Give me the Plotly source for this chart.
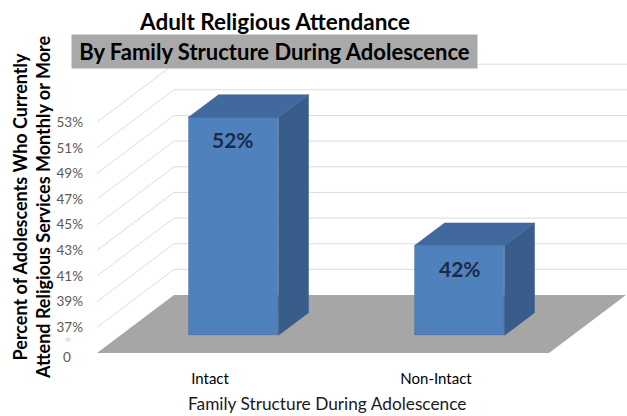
import plotly.graph_objects as go

# ---- data ----
categories = ["Intact", "Non-Intact"]
values = [52, 42]
value_labels = ["52%", "42%"]
tick_values = [37, 39, 41, 43, 45, 47, 49, 51, 53]
tick_labels = ["37%", "39%", "41%", "43%", "45%", "47%", "49%", "51%", "53%"]

# ---- geometry / style ----
FONT = "Lato"
W, H = 627, 416
ML, MR, MT, MB = 97, 0, 58, 63
Y0, Y1 = 35, 58
X0, X1 = -0.5, 1.845
DX, DY = 0.3407, 4.52          # full depth offset (x units, y units)
D_FRONT, D_BAR = 0.305, 0.39   # bar front depth fraction and bar depth fraction
BAR_W = 0.398

FRONT = "#4f81bd"
SIDE = "#385d8a"
TOP = "#41699d"
GRID = "#dcdcdc"
FLOOR = "#a6a6a6"

pw = W - ML - MR
ph = H - MT - MB


def px2paper_x(px):
    return (px - ML) / pw


def py2paper_y(py):
    return (H - MB - py) / ph


fig = go.Figure()
shapes = []

# walls gridlines
for v in tick_values:
    shapes.append(dict(type="line", xref="x", yref="y", x0=X0, y0=v, x1=X0 + DX, y1=v + DY,
                       line=dict(color=GRID, width=1), layer="below"))
    shapes.append(dict(type="line", xref="x", yref="y", x0=X0 + DX, y0=v + DY, x1=X1, y1=v + DY,
                       line=dict(color=GRID, width=1), layer="below"))

# floor
floor_path = (f"M {X0},{Y0} L 1.5,{Y0} L {1.5 + DX},{Y0 + DY} L {X0 + DX},{Y0 + DY} Z")
shapes.append(dict(type="path", xref="x", yref="y", path=floor_path,
                   fillcolor=FLOOR, line=dict(width=0), layer="below"))

# bars: front faces
fx = [i + D_FRONT * DX for i in range(len(categories))]
base = Y0 + D_FRONT * DY
fig.add_trace(go.Bar(
    x=fx, y=[v - Y0 for v in values], base=[base] * len(values), width=BAR_W,
    marker=dict(color=FRONT, line=dict(color="#41699d", width=0.6)),
    hoverinfo="skip", showlegend=False,
))

# side and top faces
for i, v in enumerate(values):
    xl = fx[i] - BAR_W / 2
    xr = fx[i] + BAR_W / 2
    top = v + D_FRONT * DY
    ox, oy = D_BAR * DX, D_BAR * DY
    fig.add_trace(go.Scatter(
        x=[xr, xr, xr + ox, xr + ox, xr], y=[base, top, top + oy, base + oy, base],
        fill="toself", fillcolor=SIDE, mode="lines", line=dict(color=SIDE, width=0.5),
        hoverinfo="skip", showlegend=False))
    fig.add_trace(go.Scatter(
        x=[xl, xr, xr + ox, xl + ox, xl], y=[top, top, top + oy, top + oy, top],
        fill="toself", fillcolor=TOP, mode="lines", line=dict(color=TOP, width=0.5),
        hoverinfo="skip", showlegend=False))

annotations = []
for i, v in enumerate(values):
    annotations.append(dict(x=fx[i], y=v + D_FRONT * DY, xref="x", yref="y",
                            text=f"<b>{value_labels[i]}</b>", showarrow=False,
                            yanchor="top", yshift=-8,
                            font=dict(family=FONT, size=21, color="#1c2a4a")))

# titles
annotations.append(dict(x=px2paper_x(274), y=py2paper_y(22), xref="paper", yref="paper",
                        text="<b>Adult Religious Attendance</b>", showarrow=False,
                        xanchor="center", yanchor="middle",
                        font=dict(family=FONT, size=22.5, color="#000000")))
annotations.append(dict(x=px2paper_x(274.5), y=py2paper_y(51.5), xref="paper", yref="paper",
                        text="<b>By Family Structure During Adolescence</b>", showarrow=False,
                        xanchor="center", yanchor="middle", width=405, height=33,
                        bgcolor="#a9a9a9", borderpad=0,
                        font=dict(family=FONT, size=22, color="#000000")))
# y axis title
annotations.append(dict(x=px2paper_x(31), y=py2paper_y(208), xref="paper", yref="paper",
                        text="<b>Percent of Adolescents Who Currently<br>Attend Religious Services Monthly or More</b>",
                        showarrow=False, textangle=-90, xanchor="center", yanchor="middle",
                        font=dict(family=FONT, size=18, color="#000000")))
# x axis title
annotations.append(dict(x=px2paper_x(327), y=py2paper_y(403), xref="paper", yref="paper",
                        text="Family Structure During Adolescence", showarrow=False,
                        xanchor="center", yanchor="middle",
                        font=dict(family=FONT, size=17.3, color="#1a1a1a")))
# zero label and break mark
annotations.append(dict(x=px2paper_x(67), y=py2paper_y(357), xref="paper", yref="paper",
                        text="0", showarrow=False, xanchor="center", yanchor="middle",
                        font=dict(family=FONT, size=13.5, color="#595959")))
annotations.append(dict(x=px2paper_x(67), y=py2paper_y(339), xref="paper", yref="paper",
                        text="≈", showarrow=False, xanchor="center", yanchor="middle", textangle=-30,
                        font=dict(family=FONT, size=12, color="#c8c8c8")))

fig.update_layout(
    width=W, height=H,
    margin=dict(l=ML, r=MR, t=MT, b=MB, pad=0),
    paper_bgcolor="white", plot_bgcolor="white",
    shapes=shapes, annotations=annotations,
    showlegend=False, bargap=0,
    xaxis=dict(range=[X0, X1], tickvals=[0, 1], ticktext=categories, showgrid=False,
               zeroline=False, showline=False, ticks="", ticklabelstandoff=15,
               tickfont=dict(family=FONT, size=15, color="#000000")),
    yaxis=dict(range=[Y0, Y1], tickvals=tick_values, ticktext=tick_labels, showgrid=False,
               zeroline=False, showline=False, ticks="", ticklabelstandoff=13,
               tickfont=dict(family=FONT, size=13.5, color="#595959")),
)

fig.write_html("out.html", config={"displayModeBar": False},
               post_script="document.body.style.margin='0';")
